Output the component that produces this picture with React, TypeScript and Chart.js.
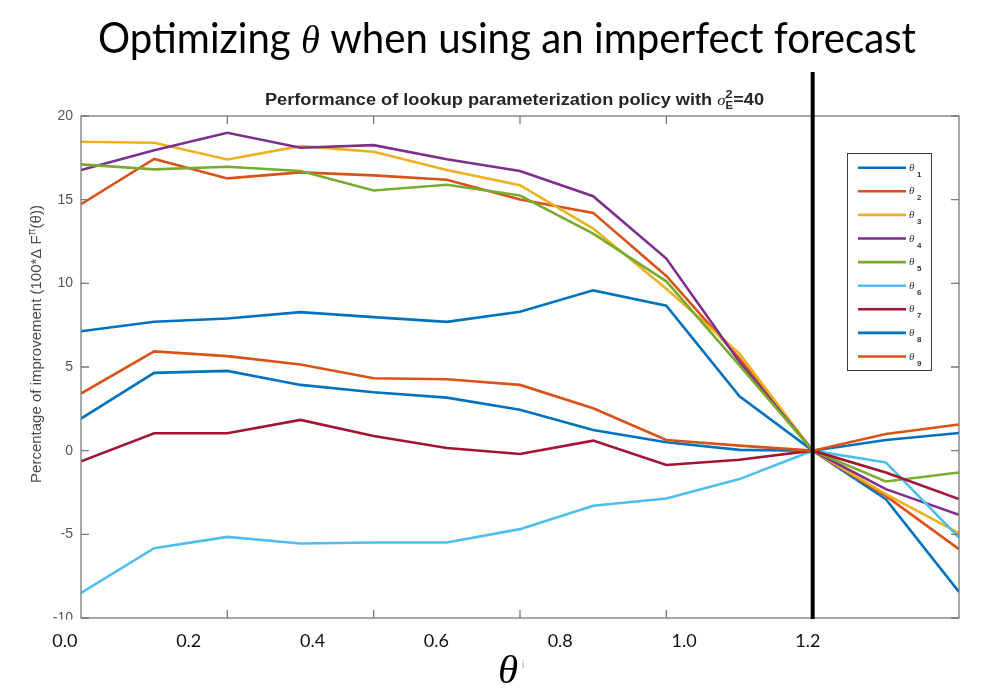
import { useEffect, useRef } from 'react';
import { Chart, registerables } from 'chart.js';

Chart.register(...registerables);

// Grid positions of the lookup parameter (13 candidate values)
const gridIndex = [0, 1, 2, 3, 4, 5, 6, 7, 8, 9, 10, 11, 12];

// Percentage improvement for each policy parameter θ1..θ9
const theta1 = [7.14, 7.7, 7.9, 8.28, 7.98, 7.7, 8.3, 9.58, 8.66, 3.25, 0, -2.9, -8.44];
const theta2 = [14.73, 17.43, 16.27, 16.63, 16.45, 16.19, 15.01, 14.21, 10.44, 5.5, 0, -2.7, -5.89];
const theta3 = [18.46, 18.4, 17.4, 18.2, 17.86, 16.77, 15.87, 13.27, 9.68, 5.8, 0, -2.6, -4.93];
const theta4 = [16.77, 17.96, 19.0, 18.1, 18.26, 17.41, 16.71, 15.21, 11.48, 5.3, 0, -2.3, -3.83];
const theta5 = [17.11, 16.81, 16.97, 16.71, 15.55, 15.89, 15.25, 12.97, 10.12, 5.1, 0, -1.84, -1.3];
const theta6 = [-8.5, -5.83, -5.15, -5.55, -5.49, -5.49, -4.69, -3.29, -2.86, -1.7, 0, -0.7, -5.19];
const theta7 = [-0.64, 1.04, 1.04, 1.84, 0.88, 0.16, -0.2, 0.6, -0.86, -0.54, 0, -1.3, -2.89];
const theta8 = [1.92, 4.65, 4.77, 3.93, 3.49, 3.17, 2.44, 1.24, 0.5, 0.05, 0, 0.64, 1.06];
const theta9 = [3.41, 5.93, 5.65, 5.15, 4.33, 4.27, 3.93, 2.53, 0.64, 0.3, 0, 1.0, 1.56];

const seriesNames = ['1', '2', '3', '4', '5', '6', '7', '8', '9'];
const seriesValues = [theta1, theta2, theta3, theta4, theta5, theta6, theta7, theta8, theta9];
const seriesColors = ['#0072BD', '#D95319', '#EDB120', '#7E2F8E', '#77AC30', '#4DBEEE', '#A2142F', '#0072BD', '#D95319'];

// Inward tick marks along the x axis and the grid point where all curves meet
const xTickValues = [2, 4, 6, 8, 10];
const crossingIndex = 10;

// Slide annotation for the horizontal axis
const thetaTickValues = [0.0, 0.2, 0.4, 0.6, 0.8, 1.0, 1.2];
const thetaTickLabels = ['0.0', '0.2', '0.4', '0.6', '0.8', '1.0', '1.2'];

const slideTitle = ['Optimizing ', 'θ', ' when using an imperfect forecast'];
const plotTitle = 'Performance of lookup parameterization policy with ';
const yTitle = ['Percentage of improvement (100*Δ F', 'π', '(θ))'];

type Run = { text: string; font: string; dy?: number; color?: string; noAdvance?: boolean };

function runsWidth(ctx: CanvasRenderingContext2D, runs: Run[]) {
  let w = 0;
  for (const r of runs) {
    ctx.font = r.font;
    if (!r.noAdvance) w += ctx.measureText(r.text).width;
  }
  return w;
}

// Draws a sequence of text runs starting at x0, scaled by sx horizontally
function drawRuns(ctx: CanvasRenderingContext2D, runs: Run[], x0: number, y: number, sx: number, color: string) {
  ctx.save();
  ctx.translate(x0, y);
  ctx.scale(sx, 1);
  let x = 0;
  for (const r of runs) {
    ctx.font = r.font;
    ctx.fillStyle = r.color || color;
    ctx.textAlign = 'left';
    ctx.textBaseline = 'alphabetic';
    ctx.fillText(r.text, x, r.dy || 0);
    if (!r.noAdvance) x += ctx.measureText(r.text).width;
  }
  ctx.restore();
}

const decorPlugin = {
  id: 'decor',
  beforeDraw(chart: any) {
    const { ctx, width, height } = chart;
    ctx.save();
    ctx.fillStyle = '#ffffff';
    ctx.fillRect(0, 0, width, height);
    ctx.restore();
  },
  afterDraw(chart: any) {
    const { ctx, chartArea } = chart;
    const { left, right, top, bottom } = chartArea;
    const xs = chart.scales.x;
    const ys = chart.scales.y;
    const x2 = chart.scales.x2;

    ctx.save();

    // cover below the axes (slide label strip)
    ctx.fillStyle = '#ffffff';
    ctx.fillRect(0, bottom + 1.5, left - 1, 40);

    // axes box
    ctx.strokeStyle = '#7a7a7a';
    ctx.lineWidth = 1.3;
    ctx.strokeRect(left, top, right - left, bottom - top);

    // inward ticks
    ctx.beginPath();
    const tl = 8;
    for (const t of ys.ticks) {
      const py = ys.getPixelForValue(t.value);
      ctx.moveTo(left, py);
      ctx.lineTo(left + tl, py);
      ctx.moveTo(right, py);
      ctx.lineTo(right - tl, py);
    }
    for (const v of xTickValues) {
      const px = xs.getPixelForValue(v);
      ctx.moveTo(px, top);
      ctx.lineTo(px, top + tl);
      ctx.moveTo(px, bottom);
      ctx.lineTo(px, bottom - tl);
    }
    ctx.stroke();

    // vertical marker at the crossing point
    const cx = xs.getPixelForValue(crossingIndex);
    ctx.strokeStyle = '#000000';
    ctx.lineWidth = 4;
    ctx.beginPath();
    ctx.moveTo(cx, 72);
    ctx.lineTo(cx, bottom + 1);
    ctx.stroke();

    // legend
    const lx = 847.5;
    const ly = 153.5;
    ctx.fillStyle = '#ffffff';
    ctx.fillRect(lx, ly, 84, 217);
    ctx.strokeStyle = '#3a3a3a';
    ctx.lineWidth = 1;
    ctx.strokeRect(lx, ly, 84, 217);
    seriesNames.forEach((name, k) => {
      const yy = 167.7 + k * 23.6;
      ctx.strokeStyle = seriesColors[k];
      ctx.lineWidth = 2.6;
      ctx.beginPath();
      ctx.moveTo(858, yy);
      ctx.lineTo(906, yy);
      ctx.stroke();
      ctx.fillStyle = '#333333';
      ctx.textAlign = 'left';
      ctx.textBaseline = 'alphabetic';
      ctx.font = 'italic 11px "Liberation Serif"';
      ctx.fillText('θ', 909, yy + 3);
      ctx.font = 'bold 8px "Liberation Sans"';
      ctx.fillText(name, 917, yy + 9);
    });

    // slide title
    const titleRuns: Run[] = [
      { text: slideTitle[0], font: '400 42px Lato' },
      { text: slideTitle[1], font: 'italic 40px "Liberation Serif"' },
      { text: slideTitle[2], font: '400 42px Lato' },
    ];
    const tw = runsWidth(ctx, titleRuns);
    drawRuns(ctx, titleRuns, 98, 53, 818 / tw, '#000000');

    // plot title with σ_E^2 = 40
    const pf = 'bold 16px "Liberation Sans"';
    const ptRuns: Run[] = [
      { text: plotTitle, font: pf },
      { text: 'σ', font: 'italic 15px "Liberation Serif"' },
      { text: '2', font: 'bold 11px "Liberation Sans"', dy: -7, noAdvance: true },
      { text: 'E', font: 'bold 10px "Liberation Sans"', dy: 4 },
      { text: '=40', font: pf },
    ];
    const pw = runsWidth(ctx, ptRuns);
    drawRuns(ctx, ptRuns, 265, 105, 499 / pw, '#262626');

    // y axis title, rotated
    const yRuns: Run[] = [
      { text: yTitle[0], font: '15px "Liberation Sans"' },
      { text: yTitle[1], font: '10px "Liberation Sans"', dy: -6 },
      { text: yTitle[2], font: '15px "Liberation Sans"' },
    ];
    const yw = runsWidth(ctx, yRuns);
    ctx.save();
    ctx.translate(41, 344);
    ctx.rotate(-Math.PI / 2);
    drawRuns(ctx, yRuns, -yw / 2, 0, 1, '#4a4a4a');
    ctx.restore();

    // slide labels for θ along the bottom
    ctx.fillStyle = '#111111';
    ctx.font = '400 18px Lato';
    ctx.textAlign = 'center';
    ctx.textBaseline = 'alphabetic';
    thetaTickValues.forEach((v, k) => {
      ctx.fillText(thetaTickLabels[k], x2.getPixelForValue(v), 647);
    });

    // θ^i axis symbol
    ctx.font = 'italic 41px "Liberation Serif"';
    ctx.fillStyle = '#000000';
    ctx.fillText('θ', 508, 683);
    ctx.font = '10px "Liberation Sans"';
    ctx.fillStyle = '#9a9a9a';
    ctx.textAlign = 'left';
    ctx.fillText('i', 522, 668);

    ctx.restore();
  },
};

export default function App() {
  const canvasRef = useRef<HTMLCanvasElement | null>(null);

  useEffect(() => {
    const canvas = canvasRef.current;
    if (!canvas) return;
    const chart = new Chart(canvas, {
      type: 'line',
      data: {
        datasets: seriesValues.map((vals, k) => ({
          label: 'θ' + seriesNames[k],
          data: gridIndex.map((x, j) => ({ x, y: vals[j] })),
          borderColor: seriesColors[k],
          backgroundColor: seriesColors[k],
          borderWidth: 2.6,
          pointRadius: 0,
          tension: 0,
          fill: false,
          order: seriesValues.length - k,
        })),
      },
      options: {
        responsive: false,
        animation: false,
        devicePixelRatio: 1,
        layout: { padding: { left: 0, top: 116, right: 26, bottom: 80 } },
        plugins: {
          legend: { display: false },
          tooltip: { enabled: false },
          title: { display: false },
        },
        scales: {
          x: { type: 'linear', min: 0, max: 12, display: false },
          x2: { type: 'linear', axis: 'x', min: 0.026, max: 1.444, display: false },
          y: {
            min: -10,
            max: 20,
            ticks: {
              stepSize: 5,
              padding: 8,
              color: '#555555',
              font: { family: 'Liberation Sans', size: 14 },
            },
            grid: { display: false, drawTicks: false },
            border: { display: false },
            afterFit: (s: any) => {
              s.width = 81;
            },
          },
        },
      } as any,
      plugins: [decorPlugin],
    });
    return () => chart.destroy();
  }, []);

  return (
    <div style={{ position: 'fixed', left: 0, top: 0, width: 985, height: 698, background: '#ffffff' }}>
      <canvas ref={canvasRef} width={985} height={698} style={{ display: 'block', width: 985, height: 698 }} />
    </div>
  );
}
